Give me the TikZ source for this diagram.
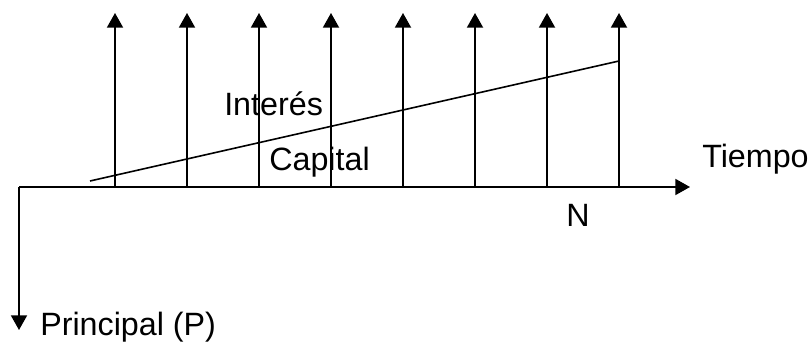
\documentclass[tikz,border=0pt]{standalone}
\usepackage{fontspec}
\setmainfont{Liberation Sans}
\usetikzlibrary{arrows.meta}

\begin{document}
\begin{tikzpicture}[
    x=0.75pt, y=-0.75pt,
    flow/.style={-{Triangle[length=11pt, width=12pt]}, line width=1.4pt},
    rate/.style={line width=1.2pt},
    lbl/.style={inner sep=0pt, anchor=base west, font=\fontsize{24.2}{29}\selectfont}
]
    \useasboundingbox (0,0) rectangle (810,342);

    % axis
    \coordinate (o)    at (19,187);
    \coordinate (tend) at (690,187);
    \coordinate (pend) at (19,330);
    \draw[flow] (o) -- (tend);
    \draw[flow] (o) -- (pend);

    % payments
    \draw[flow] (115,187) -- (115,13);
    \draw[flow] (187,187) -- (187,13);
    \draw[flow] (259,187) -- (259,13);
    \draw[flow] (331,187) -- (331,13);
    \draw[flow] (403,187) -- (403,13);
    \draw[flow] (475,187) -- (475,13);
    \draw[flow] (547,187) -- (547,13);
    \draw[flow] (619,187) -- (619,13);

    % split interest / capital
    \coordinate (s0) at (90,181);
    \coordinate (s1) at (619,61);
    \draw[rate] (s0) -- (s1);

    \node[lbl] (int)  at (224,116) {Interés};
    \node[lbl] (cap)  at (269,171) {Capital};
    \node[lbl] (time) at (702,168) {Tiempo};
    \node[lbl] (nn)   at (566,226) {N};
    \node[lbl] (prin) at (40,335)  {Principal (P)};
\end{tikzpicture}
\end{document}
